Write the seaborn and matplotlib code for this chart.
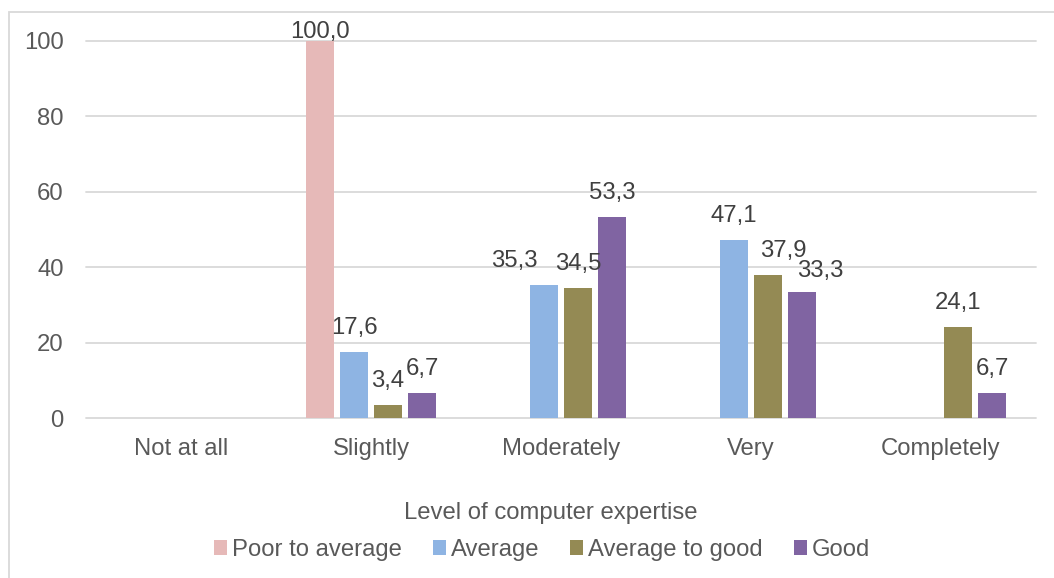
import numpy as np
import pandas as pd
import seaborn as sns
import matplotlib.pyplot as plt
from matplotlib.patches import Rectangle

# Share of respondents per level of computer expertise, by rating group (%)
categories = ["Not at all", "Slightly", "Moderately", "Very", "Completely"]
series_names = ["Poor to average", "Average", "Average to good", "Good"]
poor_to_average = [0, 100.0, 0, 0, 0]
average = [0, 17.6, 35.3, 47.1, 0]
average_to_good = [0, 3.4, 34.5, 37.9, 24.1]
good = [0, 6.7, 53.3, 33.3, 6.7]
y_ticks = [0, 20, 40, 60, 80, 100]
x_title = "Level of computer expertise"

colors = ["#E6B9B8", "#8EB4E3", "#948A54", "#8064A2"]
text_grey = "#595959"
label_grey = "#404040"
line_grey = "#D9D9D9"

# Hand-placed value labels that would otherwise collide (pixel nudges dx, dy)
label_nudge = {
    ("Average", "Moderately"): (-30, 0),
    ("Average to good", "Very"): (15, 0),
    ("Good", "Very"): (18, -2.5),
}

W, H = 1054, 578
FS = 17.2

sns.set_theme(style="white")
plt.rcParams["font.family"] = ["Liberation Sans", "DejaVu Sans"]

values = [poor_to_average, average, average_to_good, good]
df = pd.DataFrame({
    "level": np.repeat([categories], len(series_names), axis=0).ravel(),
    "group": np.repeat(series_names, len(categories)),
    "value": np.concatenate(values),
})

fig = plt.figure(figsize=(W / 100, H / 100), dpi=100)
ax = fig.add_axes([86 / W, 1 - 418.3 / H, (1036 - 86) / W, (418.3 - 40.5) / H])

sns.barplot(
    data=df, x="level", y="value", hue="group",
    order=categories, hue_order=series_names, palette=colors,
    saturation=1, width=0.716, gap=0.2, linewidth=0, errorbar=None,
    legend=False, ax=ax,
)

ax.set_xlim(-0.5, len(categories) - 0.5)
ax.set_ylim(0, 100)
ax.set_yticks(y_ticks)
ax.set_yticklabels([str(t) for t in y_ticks])
ax.set_xlabel("")
ax.set_ylabel("")
for s in ax.spines.values():
    s.set_visible(False)
ax.yaxis.grid(True, color=line_grey, linewidth=1.3)
ax.set_axisbelow(True)
for gl in ax.yaxis.get_gridlines():
    gl.set_clip_on(False)
ax.tick_params(axis="both", length=0, labelsize=FS, labelcolor=text_grey)
ax.tick_params(axis="y", pad=16)
ax.tick_params(axis="x", pad=14)

# Value labels above bars, kept inside the chart frame
top_limit_px = H - 38
for name, cont, vals in zip(series_names, ax.containers, values):
    for cat, bar, v in zip(categories, cont.patches, vals):
        if v <= 0:
            continue
        xc = bar.get_x() + bar.get_width() / 2
        top_px = ax.transData.transform((xc, v))[1]
        dx, dy = label_nudge.get((name, cat), (0, 0))
        off_px = min(18 + dy, top_limit_px - top_px)
        ax.annotate(
            f"{v:.1f}".replace(".", ","), xy=(xc, v), xycoords="data",
            xytext=(dx * 0.72, off_px * 0.72), textcoords="offset points",
            ha="center", va="baseline", fontsize=FS, color=label_grey,
            annotation_clip=False,
        )

# Chart frame
fig.add_artist(Rectangle((8.5 / W, -0.2), 1.2, 1.2 - 11.5 / H,
                         transform=fig.transFigure, facecolor="none",
                         edgecolor=line_grey, linewidth=1.3))

fig.text(551 / W, 1 - 513 / H, x_title, ha="center", va="center",
         fontsize=FS, color=text_grey)

fig.legend(
    handles=list(ax.containers), labels=series_names,
    loc="center", bbox_to_anchor=(542 / W, 1 - 550 / H), ncol=4,
    frameon=False, fontsize=FS, handlelength=0.55, handleheight=0.55,
    handletextpad=0.2, columnspacing=1.3, labelcolor=text_grey,
    borderaxespad=0, borderpad=0,
)

fig.savefig("out.png", dpi=100, facecolor="white")
